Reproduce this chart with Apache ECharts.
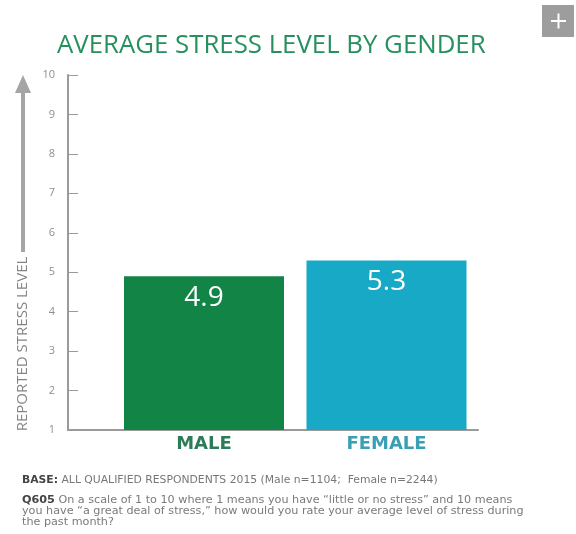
<!DOCTYPE html>
<html>
<head>
<meta charset="utf-8">
<title>Average Stress Level by Gender</title>
<script src="https://cdn.jsdelivr.net/npm/echarts@6/dist/echarts.min.js"></script>
<style>
  html, body { margin: 0; padding: 0; background: #ffffff; }
  #chart { width: 576px; height: 534px; }
</style>
</head>
<body>
<div id="chart"></div>
<script>
// Survey results: mean self-reported stress (1–10 scale)
const categories = ['MALE', 'FEMALE'];
const stressLevels = [4.9, 5.3];
const yTicks = [1, 2, 3, 4, 5, 6, 7, 8, 9, 10];

const titleText = 'AVERAGE STRESS LEVEL BY GENDER';
const axisTitle = 'REPORTED STRESS LEVEL';
const baseNote = 'ALL QUALIFIED RESPONDENTS 2015 (Male n=1104;  Female n=2244)';
const questionLines = [
  'On a scale of 1 to 10 where 1 means you have \u201clittle or no stress\u201d and 10 means',
  'you have \u201ca great deal of stress,\u201d how would you rate your average level of stress during',
  'the past month?'
];

const barColors = ['#128446', '#17a9c5'];
const labelColors = ['#2c7c58', '#3a9fb3'];
const FONT = '"Open Sans", "Noto Sans", sans-serif';
const WIDE = '"DejaVu Sans", sans-serif';

const chart = echarts.init(document.getElementById('chart'), null, { renderer: 'canvas' });

const option = {
  backgroundColor: '#ffffff',
  animation: false,
  title: {
    text: titleText,
    left: 52,
    top: 28,
    textStyle: { color: '#26905e', fontSize: 25.8, fontWeight: 'normal', fontFamily: FONT }
  },
  grid: [
    // frame grid: carries the stress scale and the baseline
    { left: 68, right: 98, top: 75, bottom: 104, containLabel: false },
    // bar grid
    { left: 112.75, right: 98.25, top: 75, bottom: 104, containLabel: false }
  ],
  xAxis: [
    {
      gridIndex: 0, type: 'value', min: 0, max: 1,
      axisLine: { show: true, lineStyle: { color: '#9a9a9a', width: 2 } },
      axisTick: { show: false }, axisLabel: { show: false }, splitLine: { show: false }
    },
    {
      gridIndex: 1, type: 'category', data: categories,
      axisLine: { show: false }, axisTick: { show: false }, splitLine: { show: false },
      axisLabel: {
        margin: 5,
        formatter: function (v, i) { return '{c' + i + '|' + v + '}'; },
        rich: {
          c0: { color: labelColors[0], fontSize: 18, fontWeight: 'bold', fontFamily: WIDE },
          c1: { color: labelColors[1], fontSize: 18, fontWeight: 'bold', fontFamily: WIDE }
        }
      }
    }
  ],
  yAxis: [
    {
      gridIndex: 0, type: 'value',
      min: yTicks[0], max: yTicks[yTicks.length - 1], interval: 1,
      axisLine: { show: true, lineStyle: { color: '#9a9a9a', width: 2 } },
      axisTick: { show: true, inside: true, length: 10, lineStyle: { color: '#9a9a9a', width: 1 } },
      axisLabel: { margin: 13, color: '#8f8f8f', fontSize: 11, fontFamily: FONT },
      splitLine: { show: false }
    },
    {
      gridIndex: 1, type: 'value',
      min: yTicks[0], max: yTicks[yTicks.length - 1], interval: 1,
      show: false
    }
  ],
  series: [
    {
      type: 'bar',
      xAxisIndex: 1,
      yAxisIndex: 1,
      barWidth: 160,
      data: stressLevels.map(function (v, i) {
        return { value: v, itemStyle: { color: barColors[i] } };
      }),
      label: {
        show: true,
        position: 'insideTop',
        distance: 8,
        color: '#ffffff',
        fontSize: 28,
        fontFamily: FONT
      }
    }
  ],
  graphic: [
    // axis title with upward arrow
    {
      type: 'text',
      x: 23, y: 344, rotation: Math.PI / 2,
      style: {
        text: axisTitle, fill: '#858585', fontSize: 15, fontFamily: FONT,
        textAlign: 'center', textVerticalAlign: 'middle'
      }
    },
    {
      type: 'line',
      shape: { x1: 23, y1: 252, x2: 23, y2: 90 },
      style: { stroke: '#a5a5a5', lineWidth: 4 }
    },
    {
      type: 'polygon',
      shape: { points: [[15, 93], [23, 75], [31, 93]] },
      style: { fill: '#a5a5a5' }
    },
    // expand button
    {
      type: 'rect',
      shape: { x: 542, y: 5, width: 32, height: 32 },
      style: { fill: '#9d9d9d' }
    },
    {
      type: 'rect',
      shape: { x: 551, y: 20, width: 15, height: 2 },
      style: { fill: '#ffffff' }
    },
    {
      type: 'rect',
      shape: { x: 557.5, y: 13.5, width: 2, height: 15 },
      style: { fill: '#ffffff' }
    },
    // footnotes
    {
      type: 'text',
      x: 22, y: 480,
      style: {
        text: '{b|BASE:} ' + baseNote,
        fill: '#777777', fontSize: 10.8, fontFamily: WIDE, textVerticalAlign: 'middle',
        rich: { b: { fontWeight: 'bold', fill: '#444444', fontSize: 10.8, fontFamily: WIDE } }
      }
    },
    {
      type: 'text',
      x: 22, y: 495,
      style: {
        text: '{b|Q605} ' + questionLines[0] + '\n' + questionLines[1] + '\n' + questionLines[2],
        fill: '#7a7a7a', fontSize: 11.2, lineHeight: 10.75, fontFamily: WIDE,
        rich: { b: { fontWeight: 'bold', fill: '#444444', fontSize: 11.2, lineHeight: 10.75, fontFamily: WIDE } }
      }
    }
  ]
};

chart.setOption(option);
</script>
</body>
</html>
